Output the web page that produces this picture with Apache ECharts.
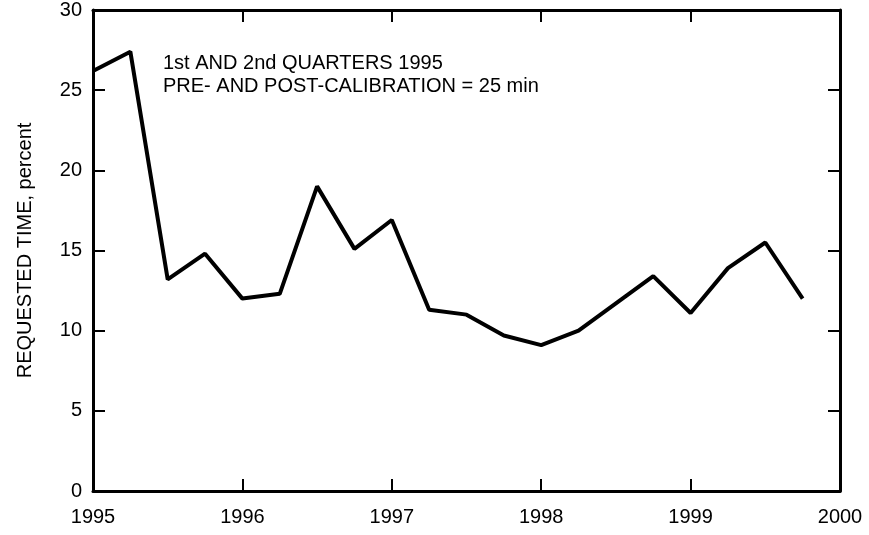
<!DOCTYPE html>
<html>
<head>
<meta charset="utf-8">
<script src="https://cdn.jsdelivr.net/npm/echarts@6/dist/echarts.min.js"></script>
<style>
  html, body { margin: 0; padding: 0; background: #fff; }
  #chart { width: 869px; height: 535px; }
</style>
</head>
<body>
<div id="chart"></div>
<script>
// quarterly positions (decimal years) and requested time, percent
const quarters = [1995, 1995.25, 1995.5, 1995.75, 1996, 1996.25, 1996.5, 1996.75,
  1997, 1997.25, 1997.5, 1997.75, 1998, 1998.25, 1998.5, 1998.75,
  1999, 1999.25, 1999.5, 1999.75];
const requested = [26.2, 27.4, 13.2, 14.8, 12.0, 12.3, 19.0, 15.1,
  16.9, 11.3, 11.0, 9.7, 9.1, 10.0, 11.7, 13.4,
  11.1, 13.9, 15.5, 12.0];
const noteLines = ["1st AND 2nd QUARTERS 1995", "PRE- AND POST-CALIBRATION = 25 min"];

const font = "Liberation Sans, Arial, Helvetica, sans-serif";
const chart = echarts.init(document.getElementById("chart"), null, { renderer: "canvas" });

const axisLine = { show: true, onZero: false, lineStyle: { color: "#000", width: 3 } };
const tick = { show: true, inside: true, length: 12, lineStyle: { color: "#000", width: 2 } };

chart.setOption({
  animation: false,
  backgroundColor: "#fff",
  grid: { left: 93, right: 29, top: 10, bottom: 44 },
  xAxis: [
    {
      type: "value", min: 1995, max: 2000, interval: 1,
      axisLine, axisTick: tick, splitLine: { show: false },
      axisLabel: { color: "#000", fontFamily: font, fontSize: 20, margin: 16, formatter: (v) => String(v) }
    },
    {
      type: "value", position: "top", min: 1995, max: 2000, interval: 1,
      axisLine, axisTick: tick, splitLine: { show: false }, axisLabel: { show: false }
    }
  ],
  yAxis: [
    {
      type: "value", min: 0, max: 30, interval: 5,
      name: "REQUESTED TIME, percent", nameLocation: "middle", nameGap: 58,
      nameTextStyle: { color: "#000", fontFamily: font, fontSize: 20 },
      axisLine, axisTick: tick, splitLine: { show: false },
      axisLabel: { color: "#000", fontFamily: font, fontSize: 20, margin: 11 }
    },
    {
      type: "value", position: "right", min: 0, max: 30, interval: 5,
      axisLine, axisTick: tick, splitLine: { show: false }, axisLabel: { show: false }
    }
  ],
  graphic: [
    {
      type: "text", left: 163, top: 52,
      style: {
        text: noteLines.join("\n"), fill: "#000", font: "20px " + font, lineHeight: 23
      }
    }
  ],
  series: [
    {
      type: "line",
      data: quarters.map((q, i) => [q, requested[i]]),
      symbol: "none",
      lineStyle: { color: "#000", width: 4 }
    }
  ]
});
</script>
</body>
</html>
